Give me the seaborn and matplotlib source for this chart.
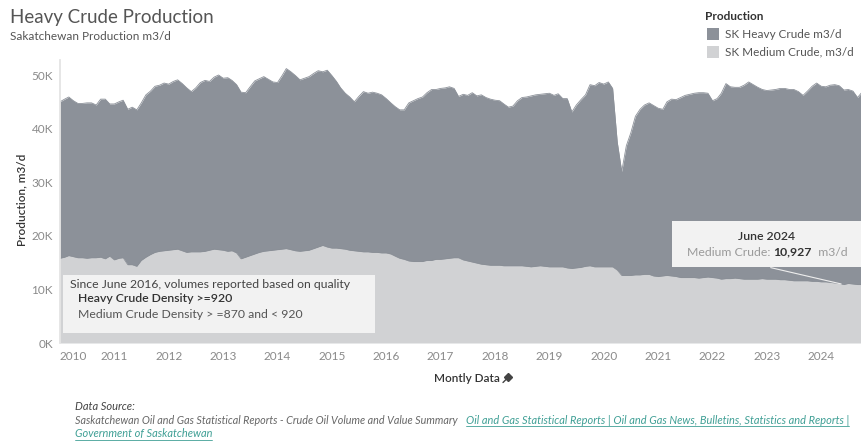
import matplotlib
matplotlib.use("Agg")
import matplotlib.pyplot as plt
import matplotlib.ticker as mticker
from matplotlib.lines import Line2D
from matplotlib.patches import Rectangle
import seaborn as sns
import pandas as pd

# monthly readings (thousand m3/d), Jan 2010 .. Oct 2024
# top of the stack = heavy + medium
total_k = [
    45.0, 45.5, 45.9, 45.2, 44.7, 44.7, 44.8, 44.8, 44.4, 45.5, 45.5, 44.6,  # 2010
    44.6, 45.0, 45.3, 43.6, 44.0, 43.5, 44.8, 46.3, 47.0, 47.9, 48.1, 48.5,  # 2011
    48.3, 48.8, 49.1, 48.4, 47.6, 46.9, 47.6, 48.6, 49.0, 48.8, 49.6, 50.0,  # 2012
    49.4, 49.5, 49.0, 48.2, 46.8, 46.7, 47.8, 48.9, 49.3, 49.7, 49.2, 48.7,  # 2013
    48.6, 49.9, 51.2, 50.6, 49.9, 49.1, 49.4, 49.7, 50.3, 50.8, 50.6, 50.9,  # 2014
    49.9, 48.8, 47.6, 46.6, 45.9, 45.0, 46.0, 46.9, 46.6, 46.8, 46.6, 46.3,  # 2015
    45.6, 44.8, 44.1, 43.5, 43.5, 44.8, 45.2, 45.6, 45.9, 46.7, 47.3, 47.3,  # 2016
    47.5, 47.6, 47.8, 47.5, 46.0, 46.4, 46.2, 46.7, 46.1, 46.3, 45.8, 45.5,  # 2017
    45.3, 45.2, 44.6, 44.0, 44.2, 45.2, 45.8, 45.9, 46.1, 46.3, 46.4, 46.5,  # 2018
    46.6, 46.2, 46.5, 45.6, 45.6, 43.1, 44.4, 45.4, 46.3, 48.2, 48.0, 48.6,  # 2019
    48.3, 48.7, 47.5, 37.5, 32.0, 36.8, 39.2, 42.3, 43.6, 44.4, 44.8, 44.3,  # 2020
    43.8, 43.6, 45.0, 45.5, 45.4, 45.8, 46.2, 46.4, 46.6, 46.7, 46.7, 46.6,  # 2021
    45.2, 45.6, 46.6, 48.4, 47.8, 47.7, 47.7, 48.1, 48.7, 48.2, 47.7, 47.3,  # 2022
    47.1, 47.2, 47.3, 47.5, 47.5, 47.3, 47.3, 46.9, 46.2, 47.0, 47.9, 48.5,  # 2023
    47.9, 47.8, 48.1, 48.2, 48.0, 47.2, 47.3, 47.0, 45.8, 46.8,              # 2024
]
medium_k = [
    15.8, 16.0, 16.3, 16.1, 15.9, 15.9, 15.8, 15.9, 15.9, 16.0, 15.7, 16.2,  # 2010
    15.5, 15.8, 15.9, 14.6, 14.6, 14.3, 15.4, 16.0, 16.5, 16.9, 17.1, 17.2,  # 2011
    17.3, 17.4, 17.5, 17.2, 16.9, 17.0, 17.0, 17.0, 17.1, 17.3, 17.5, 17.4,  # 2012
    17.3, 17.1, 17.2, 16.8, 15.7, 16.0, 16.3, 16.6, 16.9, 17.1, 17.2, 17.3,  # 2013
    17.4, 17.5, 17.6, 17.4, 17.2, 17.1, 17.2, 17.3, 17.6, 17.9, 18.2, 17.9,  # 2014
    17.7, 17.7, 17.6, 17.5, 17.3, 17.2, 17.1, 17.0, 17.0, 16.9, 16.9, 16.8,  # 2015
    16.8, 16.6, 16.2, 15.8, 15.6, 15.3, 15.2, 15.2, 15.2, 15.4, 15.4, 15.6,  # 2016
    15.6, 15.7, 15.8, 15.9, 15.9, 15.5, 15.3, 15.1, 14.9, 14.7, 14.6, 14.5,  # 2017
    14.5, 14.5, 14.4, 14.4, 14.4, 14.4, 14.4, 14.3, 14.2, 14.3, 14.4, 14.3,  # 2018
    14.2, 14.2, 14.2, 14.2, 14.0, 13.9, 14.0, 14.1, 14.3, 14.4, 14.2, 14.2,  # 2019
    14.2, 14.2, 14.2, 13.6, 12.6, 12.6, 12.6, 12.7, 12.7, 12.8, 12.8, 12.5,  # 2020
    12.4, 12.5, 12.6, 12.5, 12.4, 12.2, 12.2, 12.2, 12.2, 12.1, 12.2, 12.3,  # 2021
    12.2, 12.1, 11.9, 12.0, 12.0, 12.1, 12.0, 11.9, 11.9, 11.9, 11.9, 12.0,  # 2022
    11.9, 11.9, 11.9, 11.8, 11.8, 11.7, 11.6, 11.6, 11.6, 11.6, 11.5, 11.5,  # 2023
    11.4, 11.4, 11.3, 11.2, 11.1, 10.9, 11.1, 11.0, 10.9, 10.9,              # 2024
]
years = list(range(2010, 2025))
y_ticks = [0, 10000, 20000, 30000, 40000, 50000]

HEAVY_C = "#8c9199"
MEDIUM_C = "#d1d2d4"
W, H = 862, 442

sns.set_theme(style="white")
plt.rcParams['font.family'] = ['Lato', 'DejaVu Sans']

df = pd.DataFrame({
    "Month": pd.date_range("2010-01-01", periods=len(total_k), freq="MS"),
    "Medium": [v * 1000 for v in medium_k],
    "Total": [v * 1000 for v in total_k],
})
df["Heavy"] = df["Total"] - df["Medium"]


def fx(x):
    return x / W


def fy(y):
    return 1 - y / H


fig = plt.figure(figsize=(W / 100, H / 100), dpi=100)
ax = fig.add_axes([fx(60), fy(343), (W - 60) / W, 283 / H])

ax.stackplot(df["Month"], df["Medium"], df["Heavy"], colors=[MEDIUM_C, HEAVY_C], linewidth=0)
sns.lineplot(data=df, x="Month", y="Total", color=HEAVY_C, lw=0.6, ax=ax)
sns.lineplot(data=df, x="Month", y="Medium", color="#8a8f96", lw=0.5, ax=ax)

ax.set_xlim(df["Month"].iloc[0], df["Month"].iloc[-1])
ax.set_ylim(0, 52800)
ax.set_xlabel("")
ax.set_ylabel("")
for s in ["top", "right", "bottom"]:
    ax.spines[s].set_visible(False)
ax.spines["left"].set_color("#e3e3e3")

ax.set_yticks(y_ticks)
ax.yaxis.set_major_formatter(mticker.FuncFormatter(lambda v, p: f"{int(v / 1000)}K"))
ax.tick_params(axis="y", length=3, color="#d5d5d5", labelsize=8.5, labelcolor="#8a8a8a", pad=2)

ax.set_xticks(pd.to_datetime([f"{y}-01-01" for y in years]))
ax.set_xticklabels([str(y) for y in years])
ax.tick_params(axis="x", length=0, labelsize=8.5, labelcolor="#8a8a8a", pad=6)
ax.get_xticklabels()[0].set_horizontalalignment("left")

# axis titles
fig.text(fx(22), fy(200), "Production, m3/d", rotation=90, ha="center", va="center",
         fontsize=8.5, color="#333333", fontweight="semibold")
fig.text(fx(467), fy(378), "Montly Data", ha="center", va="center",
         fontsize=8.5, color="#333333", fontweight="semibold")
# small pin next to the axis title
fig.lines.append(Line2D([fx(503), fx(507.5)], [fy(382.5), fy(378)], transform=fig.transFigure,
                        color="#444444", lw=1.0))
fig.lines.append(Line2D([fx(508.5)], [fy(377)], transform=fig.transFigure, color="#444444",
                        marker="D", markersize=4.5, lw=0))

# title block
fig.text(fx(10), fy(18), "Heavy Crude Production", ha="left", va="center", fontsize=13.5, color="#555555")
fig.text(fx(10), fy(37), "Sakatchewan Production m3/d", ha="left", va="center", fontsize=8.5, color="#555555")

# legend
fig.text(fx(705), fy(17), "Production", ha="left", va="center", fontsize=8.5,
         color="#333333", fontweight="bold")
for yy, col, lab in [(34, HEAVY_C, "SK Heavy Crude m3/d"), (52, MEDIUM_C, "SK Medium Crude, m3/d")]:
    fig.patches.append(Rectangle((fx(707), fy(yy + 6)), 12 / W, 12 / H, transform=fig.transFigure,
                                 facecolor=col, edgecolor="none"))
    fig.text(fx(725), fy(yy), lab, ha="left", va="center", fontsize=8.5, color="#555555")

# annotation box (left)
fig.patches.append(Rectangle((fx(63), fy(333)), 312 / W, 58 / H, transform=fig.transFigure,
                             facecolor="#f2f2f2", edgecolor="none", zorder=5))
fig.text(fx(70), fy(284), "Since June 2016, volumes reported based on quality", ha="left", va="center",
         fontsize=8.8, color="#444444", zorder=6)
fig.text(fx(78), fy(299), "Heavy Crude Density >=920", ha="left", va="center",
         fontsize=8.8, color="#333333", fontweight="semibold", zorder=6)
fig.text(fx(78), fy(315), "Medium Crude Density > =870 and < 920", ha="left", va="center",
         fontsize=8.8, color="#555555", zorder=6)

# tooltip box (right)
fig.patches.append(Rectangle((fx(672), fy(267)), 190 / W, 46 / H, transform=fig.transFigure,
                             facecolor="#f2f2f2", edgecolor="none", zorder=5))
june = df[df["Month"] == pd.Timestamp("2024-06-01")].iloc[0]
ax.annotate("", xy=(june["Month"], june["Medium"]), xycoords="data",
            xytext=(fx(768), fy(267)), textcoords="figure fraction",
            arrowprops=dict(arrowstyle="-", color="#eeeeee", lw=0.8))
fig.text(fx(767), fy(236), "June 2024", ha="center", va="center", fontsize=8.8,
         color="#333333", fontweight="semibold", zorder=6)

renderer = fig.canvas.get_renderer()


def text_run(x0, y, parts, size, center=False, zorder=6):
    objs = []
    x = x0
    for s, kw in parts:
        t = fig.text(fx(x), fy(y), s, ha="left", va="center", fontsize=size, zorder=zorder, **kw)
        w = t.get_window_extent(renderer).width
        objs.append((t, x, w))
        x += w
    if center:
        shift = (x - x0) / 2
        for t, xx, w in objs:
            t.set_x(fx(xx - shift))
    return objs


text_run(767, 252, [("Medium Crude: ", dict(color="#9a9a9a")),
                    ("10,927", dict(color="#333333", fontweight="bold")),
                    ("  m3/d", dict(color="#9a9a9a"))], 8.8, center=True)

# footer
LINK = "#3f9f95"
FOOT = 7.9
fig.text(fx(75), fy(406), "Data Source:", ha="left", va="center", fontsize=8,
         color="#444444", style="italic")
fig.text(fx(75), fy(420), "Saskatchewan Oil and Gas Statistical Reports - Crude Oil Volume and Value Summary",
         ha="left", va="center", fontsize=7.75, color="#666666", style="italic")


def link(x, y, s):
    t = fig.text(fx(x), fy(y), s, ha="left", va="center", fontsize=FOOT, color=LINK, style="italic")
    bb = t.get_window_extent(renderer)
    fig.lines.append(Line2D([bb.x0 / W, bb.x1 / W], [bb.y0 / H, bb.y0 / H],
                            transform=fig.transFigure, color=LINK, lw=0.6))


link(466, 420, "Oil and Gas Statistical Reports | Oil and Gas News, Bulletins, Statistics and Reports |")
link(75, 434, "Government of Saskatchewan")

fig.savefig("out.png", dpi=100, facecolor="white")
